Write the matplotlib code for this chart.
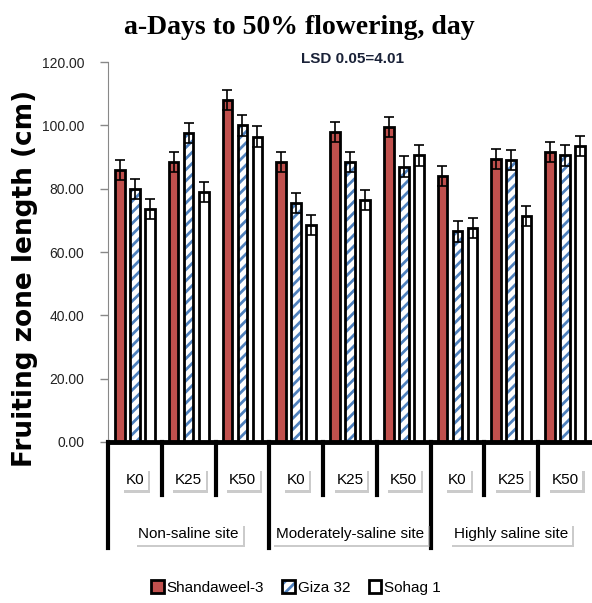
import matplotlib
matplotlib.use("Agg")
import matplotlib.pyplot as plt
import matplotlib.patheffects as pe
from matplotlib.patches import Patch
import numpy as np

sites = ["Non-saline site", "Moderately-saline site", "Highly saline site"]
levels = ["K0", "K25", "K50"]
cultivars = ["Shandaweel-3", "Giza 32", "Sohag 1"]

shandaweel = [86.0, 88.5, 108.0, 88.5, 98.0, 99.5, 84.0, 89.5, 91.5]
giza = [80.0, 97.5, 100.0, 75.5, 88.5, 87.0, 66.5, 89.0, 90.5]
sohag = [73.5, 79.0, 96.5, 68.5, 76.5, 90.5, 67.5, 71.5, 93.5]
err = 3.2

red = "#C0504D"
blue = "#4F81BD"
font = "Liberation Sans"

fig = plt.figure(figsize=(5.92, 6.03), dpi=100)
ax = fig.add_axes([0.1824, 0.267, 0.8176, 0.63])

x = np.arange(len(shandaweel))
w = 0.18
off = 0.28
ekw = dict(ecolor="black", elinewidth=1.2, capsize=3.5, capthick=1.2)

ax.bar(x - off, shandaweel, w, color=red, edgecolor="black", linewidth=2,
       yerr=err, error_kw=ekw, zorder=2)
# hatch drawn in blue, then black outline on top
plt.rcParams["hatch.linewidth"] = 2.0
ax.bar(x, giza, w, color="white", edgecolor=blue, hatch="///", linewidth=0, zorder=2)
ax.bar(x, giza, w, fill=False, edgecolor="black", linewidth=2,
       yerr=err, error_kw=ekw, zorder=3)
ax.bar(x + off, sohag, w, color="white", edgecolor="black", linewidth=2,
       yerr=err, error_kw=ekw, zorder=2)

ax.set_xlim(-0.5, len(x) - 0.5)
ax.set_ylim(0, 120)
ax.set_yticks(np.arange(0, 121, 20))
ax.set_yticklabels([f"{v:.2f}" for v in np.arange(0, 121, 20)],
                   fontsize=10, family=font, color="#222222")
ax.tick_params(axis="y", direction="out", length=6, color="#888888", width=1, pad=11)
ax.set_xticks([])
for s in ["top", "right"]:
    ax.spines[s].set_visible(False)
ax.spines["left"].set_color("#888888")
ax.spines["bottom"].set_linewidth(3.5)
ax.spines["bottom"].set_color("black")

# category table under the axis
tr = ax.get_xaxis_transform()
for i in range(len(x)):
    xe = i - 0.5
    if i % 3 == 0:
        ax.plot([xe, xe], [0, -0.28], color="black", lw=3, transform=tr, clip_on=False)
    else:
        ax.plot([xe, xe], [0, -0.14], color="black", lw=3, transform=tr, clip_on=False)
box = dict(boxstyle="square,pad=0.25", facecolor="white", edgecolor="none")
shadow = [pe.SimplePatchShadow(offset=(1.5, -1.5), shadow_rgbFace="#999999", alpha=0.5),
          pe.Normal()]
labels = []
for i in range(len(x)):
    labels.append(ax.text(i, -0.099, levels[i % 3], transform=tr, ha="center",
                          va="center", fontsize=11, family=font, bbox=box))
for j, s in enumerate(sites):
    labels.append(ax.text(3 * j + 1, -0.243, s, transform=tr, ha="center",
                          va="center", fontsize=11, family=font, bbox=box))
for t in labels:
    t.get_bbox_patch().set_path_effects(shadow)

fig.text(0.505, 0.955, "a-Days to 50% flowering, day", ha="center", va="center",
         fontsize=20, fontweight="bold", family="Liberation Serif")
fig.text(0.595, 0.902, "LSD 0.05=4.01", ha="center", va="center",
         fontsize=11, fontweight="bold", family=font, color="#1A2238")
fig.text(0.042, 0.539, "Fruiting zone length (cm)", rotation=90, ha="center",
         va="center", fontsize=19, fontweight="bold", family="DejaVu Sans")

handles = [
    Patch(facecolor=red, edgecolor="black", linewidth=2),
    (Patch(facecolor="white", edgecolor=blue, hatch="///", linewidth=0),
     Patch(fill=False, edgecolor="black", linewidth=2)),
    Patch(facecolor="white", edgecolor="black", linewidth=2),
]
leg = fig.legend(handles, cultivars, loc="center", bbox_to_anchor=(0.5, 0.026),
                 ncol=3, frameon=False, handlelength=0.8, handleheight=1.0,
                 handletextpad=0.2, columnspacing=1.2,
                 prop={"family": font, "size": 11})

fig.savefig("out.png", dpi=100)
